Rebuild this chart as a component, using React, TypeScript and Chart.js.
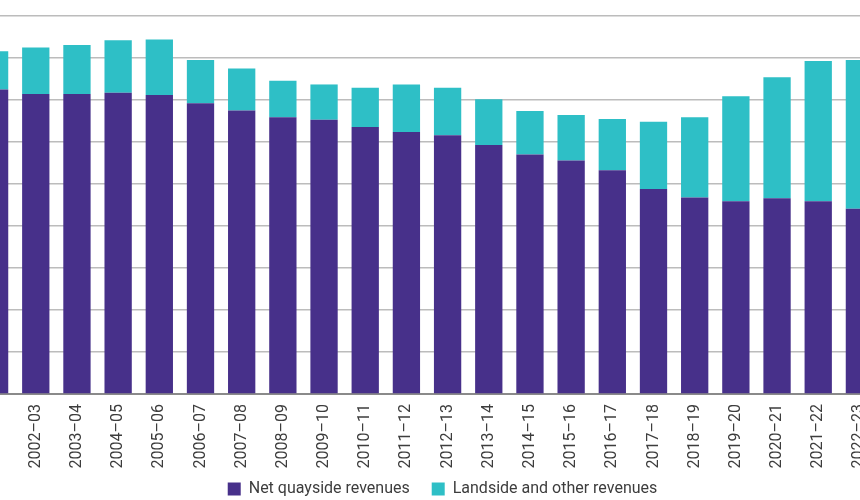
import React, { useEffect, useRef } from 'react';
import { Chart, registerables } from 'chart.js';

Chart.register(...registerables);

const categories = [
  '2001–02', '2002–03', '2003–04', '2004–05', '2005–06', '2006–07', '2007–08', '2008–09',
  '2009–10', '2010–11', '2011–12', '2012–13', '2013–14', '2014–15', '2015–16', '2016–17',
  '2017–18', '2018–19', '2019–20', '2020–21', '2021–22', '2022–23',
];
const netQuayside = [
  72.5, 71.4, 71.4, 71.7, 71.2, 69.2, 67.5, 65.9, 65.3, 63.6, 62.4,
  61.6, 59.3, 57.0, 55.6, 53.3, 48.8, 46.8, 45.9, 46.6, 45.9, 44.1,
];
const landsideOther = [
  9.1, 11.1, 11.7, 12.5, 13.2, 10.3, 10.0, 8.7, 8.4, 9.3, 11.3,
  11.3, 10.9, 10.4, 10.8, 12.2, 16.0, 19.1, 25.0, 28.8, 33.4, 35.4,
];
const seriesNames = ['Net quayside revenues', 'Landside and other revenues'];
const yMin = 0;
const yMax = 90;
const yStep = 10;

const legendShift = {
  id: 'legendShift',
  afterLayout(chart: any) {
    const l = chart.legend;
    if (l) {
      l.top -= 11;
      l.bottom -= 11;
    }
  },
};

export default function App() {
  const ref = useRef<HTMLCanvasElement | null>(null);
  useEffect(() => {
    let chart: Chart | null = null;
    let cancelled = false;
    const make = () => {
      if (cancelled || !ref.current) return;
      chart = new Chart(ref.current, {
        type: 'bar',
        data: {
          labels: categories,
          datasets: [
            {
              label: seriesNames[0],
              data: netQuayside,
              backgroundColor: '#47308a',
              barPercentage: 0.663,
              categoryPercentage: 1,
            },
            {
              label: seriesNames[1],
              data: landsideOther,
              backgroundColor: '#2ebfc6',
              barPercentage: 0.663,
              categoryPercentage: 1,
            },
          ],
        },
        plugins: [legendShift],
        options: {
          responsive: false,
          animation: false,
          layout: { padding: { top: 16, right: 0, bottom: 0, left: 0 } },
          scales: {
            x: {
              stacked: true,
              offset: true,
              grid: { display: false, drawTicks: false },
              border: { display: true, color: '#8a8a8a', width: 2 },
              ticks: {
                autoSkip: false,
                maxRotation: 90,
                minRotation: 90,
                padding: 10,
                color: '#3d3d3d',
                font: { family: 'Roboto', size: 16 },
              },
              afterFit: (s: any) => {
                s.height = 76;
              },
            },
            y: {
              stacked: true,
              position: 'right',
              min: yMin,
              max: yMax,
              ticks: { display: false, stepSize: yStep },
              border: { display: false },
              grid: { color: '#bcbcbc', lineWidth: 1.5, drawTicks: false },
              afterFit: (s: any) => {
                s.width = 31;
              },
            },
          },
          plugins: {
            legend: {
              position: 'bottom',
              labels: {
                boxWidth: 13,
                boxHeight: 13,
                padding: 22,
                color: '#3d3d3d',
                font: { family: 'Roboto', size: 16 },
              },
            },
            tooltip: { enabled: false },
          },
        },
      });
    };
    const fonts = (document as any).fonts;
    if (fonts && fonts.load) {
      fonts.load('16px Roboto').then(make, make);
    } else {
      make();
    }
    return () => {
      cancelled = true;
      if (chart) chart.destroy();
    };
  }, []);

  return (
    <div
      style={{
        position: 'fixed',
        left: 0,
        top: 0,
        width: 860,
        height: 500,
        overflow: 'hidden',
        background: '#ffffff',
      }}
    >
      <canvas
        ref={ref}
        width={937}
        height={518}
        style={{ position: 'absolute', left: -26, top: 0, width: 937, height: 518 }}
      />
    </div>
  );
}
